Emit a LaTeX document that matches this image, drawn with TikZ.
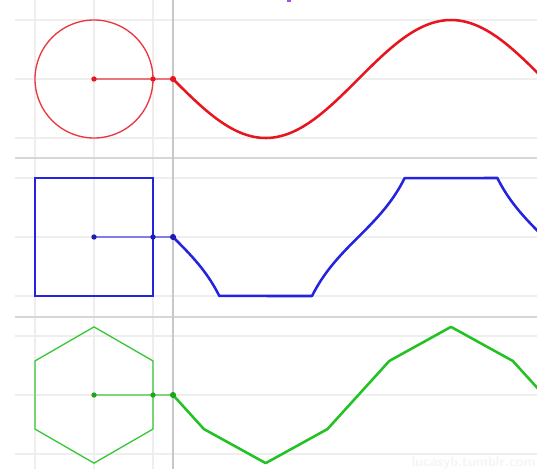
\documentclass[tikz,border=0pt]{standalone}
\usepackage{tikz}
\definecolor{gridc}{HTML}{EEEEEE}
\definecolor{axisc}{HTML}{C8C8C8}
\definecolor{sepc}{HTML}{D6D6D6}
\definecolor{redc}{HTML}{E8141E}
\definecolor{bluec}{HTML}{2424E0}
\definecolor{greenc}{HTML}{22C222}
\definecolor{purplec}{HTML}{A84CE8}
\tikzset{
  gridline/.style={draw=gridc, line width=0.9pt},
  axisline/.style={draw=axisc, line width=1pt},
  sepline/.style={draw=sepc, line width=1.6pt},
  shapeline/.style={line width=1pt},
  curveline/.style={line width=1.9pt, line join=round, line cap=round},
  linkline/.style={line width=1pt, opacity=0.55},
  dotfill/.style={circle, inner sep=0pt, minimum size=4pt},
}
\begin{document}
\begin{tikzpicture}[x=0.75pt,y=-0.75pt]
\useasboundingbox (0,0) rectangle (537,469);
\fill[white] (0,0) rectangle (537,469);
\begin{scope}
\clip (0,0) rectangle (537,469);
% vertical grid lines
\foreach \gx in {35,94,153} \draw[gridline] (\gx,0) -- (\gx,469);
% horizontal grid lines
\foreach \gy in {20,79,138,178,237,296,336,395,454} \draw[gridline] (15,\gy) -- (537,\gy);
% separators
\draw[sepline] (15,158) -- (537,158);
\draw[sepline] (15,317) -- (537,317);
% axis
\draw[axisline] (173,0) -- (173,469);
% watermark
\node[anchor=base east, text=black!4, inner sep=0pt, font=\fontsize{10.5}{12}\selectfont\sffamily\bfseries] (wm) at (536,466) {lucasyb.tumblr.com};
% purple mark
\fill[purplec] (287,0) rectangle (291,1.8);

% ---------- red panel ----------
\coordinate (rc) at (94,79);
\coordinate (rp) at (153,79);
\coordinate (rs) at (173,79);
\draw[redc!85!white, shapeline] (rc) circle[radius=59];
\draw[redc, linkline] (rc) -- (rs);
\draw[redc, curveline] plot[domain=0:6.25, samples=120, variable=\t] ({173+59*\t},{79+59*sin(\t r)});
\node[dotfill, fill=redc] (rcd) at (rc) {};
\node[dotfill, fill=redc] (rpd) at (rp) {};
\node[dotfill, fill=redc, minimum size=4.6pt] (rsd) at (rs) {};

% ---------- blue panel ----------
\coordinate (bc) at (94,237);
\coordinate (bp) at (153,237);
\coordinate (bs) at (173,237);
\draw[bluec, shapeline] (35,178) rectangle (153,296);
\draw[bluec, linkline] (bc) -- (bs);
\draw[bluec, curveline]
  plot[domain=0:0.7854, samples=30, variable=\t] ({173+59*\t},{237+59*tan(\t r)})
  -- ({173+59*2.3562},296)
  -- plot[domain=2.3562:3.927, samples=50, variable=\t] ({173+59*\t},{237-59*tan(\t r)})
  -- ({173+59*5.4978},178)
  -- plot[domain=5.4978:6.25, samples=30, variable=\t] ({173+59*\t},{237+59*tan(\t r)});
\node[dotfill, fill=bluec!80!black] (bcd) at (bc) {};
\node[dotfill, fill=bluec!80!black] (bpd) at (bp) {};
\node[dotfill, fill=bluec!80!black, minimum size=4.6pt] (bsd) at (bs) {};

% ---------- green panel ----------
\coordinate (gc) at (94,395);
\coordinate (gp) at (153,395);
\coordinate (gs) at (173,395);
\draw[greenc!90!white, shapeline] (94,326.87) -- (153,360.94) -- (153,429.06) -- (94,463.13) -- (35,429.06) -- (35,360.94) -- cycle;
\draw[greenc, linkline] (gc) -- (gs);
\draw[greenc, curveline] (gs) -- (203.9,429.06) -- (265.7,463.13) -- (327.5,429.06)
  -- (389.3,360.94) -- (451.0,326.87) -- (512.8,360.94) -- (543.7,395);
\node[dotfill, fill=greenc!85!black] (gcd) at (gc) {};
\node[dotfill, fill=greenc!85!black] (gpd) at (gp) {};
\node[dotfill, fill=greenc!85!black, minimum size=4.6pt] (gsd) at (gs) {};
\end{scope}
\end{tikzpicture}
\end{document}
